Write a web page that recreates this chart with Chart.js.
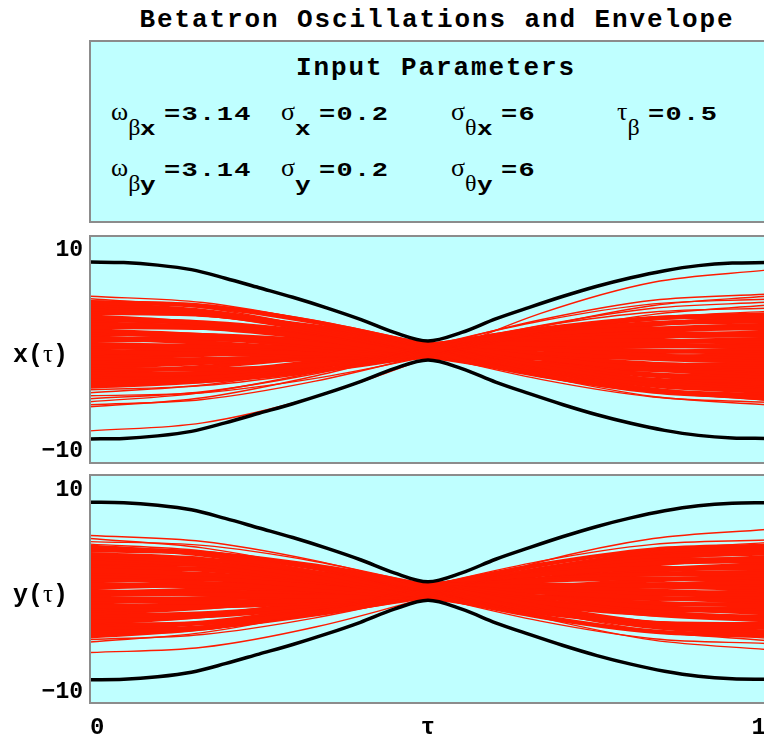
<!DOCTYPE html>
<html>
<head>
<meta charset="utf-8">
<script src="https://cdn.jsdelivr.net/npm/chart.js@4.4.1/dist/chart.umd.min.js"></script>
<style>
html,body{margin:0;padding:0;width:764px;height:742px;overflow:hidden;background:#fff;}
#title{position:absolute;left:0;top:7px;width:874px;text-align:center;font:bold 26px 'Liberation Mono',monospace;letter-spacing:1.9px;line-height:26px;white-space:nowrap;color:#000;}
#params{position:absolute;left:89px;top:40px;width:720px;height:179px;border:2px solid #8c8c8c;background:#bfffff;}
#ptitle{position:absolute;left:0;top:13px;width:690px;text-align:center;font:bold 26px 'Liberation Mono',monospace;letter-spacing:1.9px;line-height:26px;white-space:nowrap;}
.pi{position:absolute;white-space:nowrap;line-height:30px;height:30px;color:#000;}
.sym{font:26px 'Liberation Serif',serif;}
.sub{position:relative;top:15px;}
.gs{font:24px 'Liberation Serif',serif;}
.ls{display:inline-block;font:bold 20px 'Liberation Mono',monospace;transform:scaleX(1.3);transform-origin:left center;margin-right:4px;}
.val{display:inline-block;font:bold 20px 'Liberation Mono',monospace;letter-spacing:1px;transform:scaleX(1.35);transform-origin:left center;margin-left:8px;}
canvas{position:absolute;left:0;}
</style>
</head>
<body>
<div id="title"></div>
<div id="params"><div id="ptitle"></div></div>
<canvas id="cx" width="770" height="240" style="top:230px;width:770px;height:240px"></canvas>
<canvas id="cy" width="770" height="272" style="top:470px;width:770px;height:272px"></canvas>
<script>
// ---------- texts ----------
const chartTitle = 'Betatron Oscillations and Envelope';
const paramTitle = 'Input Parameters';
// [symbol, subscript greek, subscript latin, value, left(px inside box), row]
const paramItems = [
  ['ω', 'β', 'x', '=3.14', 20, 0],
  ['σ', '',  'x', '=0.2',  190, 0],
  ['σ', 'θ', 'x', '=6',    360, 0],
  ['τ', 'β', '',  '=0.5',  526, 0],
  ['ω', 'β', 'y', '=3.14', 20, 1],
  ['σ', '',  'y', '=0.2',  190, 1],
  ['σ', 'θ', 'y', '=6',    360, 1]
];
const yAxisLabels = ['x(τ)', 'y(τ)'];
const xTickValues = [0, 0.5, 1];
const xTickLabels = ['0', 'τ', '1'];
const yTickValues = [10, -10];
const yTickLabels = ['10', '−10'];

// ---------- data ----------
// sample times of the trajectories
const tau = [0, 0.1667, 0.3333, 0.5, 0.6667, 0.8333, 1];
// sample times of the envelope
const envTau = [0, 0.05, 0.1, 0.15, 0.2, 0.25, 0.3, 0.35, 0.4, 0.45, 0.5,
                0.55, 0.6, 0.65, 0.7, 0.75, 0.8, 0.85, 0.9, 0.95, 1];
const envUpperX = [8.8, 8.75, 8.5, 8.05, 7.2, 6.25, 5.3, 4.25, 3.1, 1.8, 0.95,
                   1.8, 3.15, 4.3, 5.4, 6.4, 7.25, 7.95, 8.45, 8.7, 8.75];
const envLowerX = [-8.8, -8.75, -8.5, -8.05, -7.2, -6.25, -5.3, -4.25, -3.1, -1.8, -0.95,
                   -1.8, -3.15, -4.3, -5.4, -6.4, -7.25, -7.95, -8.45, -8.7, -8.75];
const envUpperY = [8.8, 8.75, 8.5, 8.05, 7.2, 6.25, 5.3, 4.25, 3.1, 1.8, 0.92,
                   1.8, 3.15, 4.3, 5.4, 6.4, 7.25, 7.95, 8.45, 8.7, 8.75];
const envLowerY = [-8.8, -8.75, -8.5, -8.05, -7.2, -6.25, -5.3, -4.25, -3.1, -1.8, -0.92,
                   -1.8, -3.15, -4.3, -5.4, -6.4, -7.25, -7.95, -8.45, -8.7, -8.75];

// x(tau) trajectories, dense core
const xCoreLines = [
  [4.8, 4.41, 2.83, 0.5, -1.97, -3.91, -4.8],
  [4.62, 3.93, 2.18, -0.15, -2.44, -4.08, -4.62],
  [4.45, 3.7, 1.97, -0.3, -2.49, -4.0, -4.45],
  [4.1, 3.6, 2.14, 0.1, -1.96, -3.5, -4.1],
  [3.92, 3.6, 2.31, 0.4, -1.61, -3.2, -3.92],
  [3.75, 3.55, 2.39, 0.6, -1.36, -2.95, -3.75],
  [3.4, 2.67, 1.22, -0.55, -2.18, -3.22, -3.4],
  [3.22, 2.64, 1.35, -0.3, -1.87, -2.94, -3.22],
  [3.05, 2.79, 1.79, 0.3, -1.27, -2.49, -3.05],
  [2.7, 2.29, 1.26, -0.1, -1.44, -2.39, -2.7],
  [2.52, 2.48, 1.78, 0.6, -0.74, -1.88, -2.52],
  [2.35, 2.26, 1.57, 0.45, -0.79, -1.81, -2.35],
  [2.0, 1.53, 0.65, -0.4, -1.35, -1.93, -2.0],
  [1.82, 1.3, 0.43, -0.55, -1.39, -1.85, -1.82],
  [1.65, 1.53, 1.0, 0.2, -0.65, -1.33, -1.65],
  [1.3, 0.8, 0.09, -0.65, -1.21, -1.45, -1.3],
  [1.12, 1.12, 0.82, 0.3, -0.3, -0.82, -1.12],
  [0.95, 1.15, 1.04, 0.65, 0.09, -0.5, -0.95],
  [0.6, 0.42, 0.13, -0.2, -0.47, -0.62, -0.6],
  [0.42, 0.06, -0.31, -0.6, -0.73, -0.66, -0.42],
  [0.25, 0.39, 0.43, 0.35, 0.18, -0.04, -0.25],
  [-0.1, -0.34, -0.48, -0.5, -0.38, -0.16, 0.1],
  [-0.28, 0.06, 0.38, 0.6, 0.66, 0.54, 0.28],
  [-0.45, -0.36, -0.18, 0.05, 0.27, 0.41, 0.45],
  [-0.8, -0.44, 0.03, 0.5, 0.83, 0.94, 0.8],
  [-0.98, -0.87, -0.53, -0.05, 0.45, 0.82, 0.98],
  [-1.15, -1.15, -0.83, -0.3, 0.32, 0.85, 1.15],
  [-1.5, -1.17, -0.53, 0.25, 0.97, 1.42, 1.5],
  [-1.68, -1.23, -0.45, 0.45, 1.23, 1.68, 1.68],
  [-1.85, -1.9, -1.45, -0.6, 0.41, 1.3, 1.85],
  [-2.2, -1.63, -0.62, 0.55, 1.58, 2.18, 2.2],
  [-2.38, -2.24, -1.49, -0.35, 0.89, 1.89, 2.38],
  [-2.55, -2.28, -1.41, -0.15, 1.15, 2.13, 2.55],
  [-2.9, -2.31, -1.1, 0.4, 1.8, 2.71, 2.9],
  [-3.08, -2.67, -1.54, 0.0, 1.54, 2.67, 3.08],
  [-3.25, -3.04, -2.02, -0.45, 1.24, 2.59, 3.25],
  [-3.42, -2.71, -1.28, 0.5, 2.14, 3.21, 3.42],
  [-3.6, -3.04, -1.67, 0.15, 1.93, 3.19, 3.6]
];
// x(tau) trajectories, sparse edges and outlier
const xEdgeLines = [
  [5.4, 4.78, 2.87, 0.2, -2.53, -4.58, -5.4],
  [5.15, 4.28, 2.27, -0.35, -2.88, -4.63, -5.15],
  [4.95, 4.59, 2.99, 0.6, -1.96, -3.99, -4.95],
  [-3.9, -3.5, -2.17, -0.25, 1.73, 3.25, 3.9],
  [-4.2, -3.44, -1.75, 0.4, 2.45, 3.84, 4.2],
  [-4.5, -4.2, -2.77, -0.6, 1.73, 3.6, 4.5],
  [-4.8, -4.11, -2.31, 0.1, 2.49, 4.21, 4.8],
  [-5.1, -4.19, -2.16, 0.45, 2.94, 4.64, 5.1],
  [-5.4, -4.88, -3.05, -0.4, 2.35, 4.48, 5.4],
  [-5.6, -4.7, -2.54, 0.3, 3.06, 5.0, 5.6],
  [-8.0, -7.2, -4.6, -0.7, 3.7, 6.8, 8.0]
];
// y(tau) trajectories, dense core
const yCoreLines = [
  [4.4, 3.61, 1.85, -0.4, -2.55, -4.01, -4.4],
  [4.22, 3.76, 2.28, 0.2, -1.94, -3.56, -4.22],
  [4.05, 3.78, 2.5, 0.55, -1.55, -3.23, -4.05],
  [3.65, 3.16, 1.83, 0, -1.83, -3.16, -3.65],
  [3.48, 2.84, 1.44, -0.35, -2.04, -3.19, -3.48],
  [3.3, 2.56, 1.13, -0.6, -2.17, -3.16, -3.3],
  [2.9, 2.69, 1.75, 0.35, -1.15, -2.34, -2.9],
  [2.72, 2.61, 1.79, 0.5, -0.93, -2.11, -2.72],
  [2.55, 2.11, 1.1, -0.2, -1.45, -2.31, -2.55],
  [2.2, 2.21, 1.62, 0.6, -0.58, -1.61, -2.2],
  [2.0, 1.68, 0.91, -0.1, -1.09, -1.78, -2.0],
  [1.8, 1.31, 0.47, -0.5, -1.33, -1.81, -1.8],
  [1.45, 1.33, 0.86, 0.15, -0.6, -1.18, -1.45],
  [1.25, 0.78, 0.11, -0.6, -1.15, -1.38, -1.25],
  [1.05, 1.13, 0.92, 0.45, -0.14, -0.68, -1.05],
  [0.7, 0.46, 0.09, -0.3, -0.61, -0.76, -0.7],
  [0.52, 0.63, 0.56, 0.35, 0.04, -0.28, -0.52],
  [0.35, 0.63, 0.74, 0.65, 0.39, 0.02, -0.35],
  [0, -0.33, -0.56, -0.65, -0.56, -0.33, 0],
  [-0.2, 0.13, 0.42, 0.6, 0.62, 0.47, 0.2],
  [-0.4, -0.22, 0.02, 0.25, 0.42, 0.47, 0.4],
  [-0.8, -0.74, -0.49, -0.1, 0.31, 0.64, 0.8],
  [-0.98, -1.1, -0.92, -0.5, 0.06, 0.6, 0.98],
  [-1.15, -0.75, -0.14, 0.5, 1.01, 1.25, 1.15],
  [-1.5, -1.52, -1.14, -0.45, 0.36, 1.07, 1.5],
  [-1.7, -1.3, -0.55, 0.35, 1.15, 1.65, 1.7],
  [-1.9, -1.6, -0.86, 0.1, 1.04, 1.7, 1.9],
  [-2.25, -1.65, -0.61, 0.6, 1.65, 2.25, 2.25],
  [-2.45, -2.22, -1.4, -0.2, 1.05, 2.02, 2.45],
  [-2.65, -2.47, -1.63, -0.35, 1.02, 2.12, 2.65],
  [-3.0, -2.45, -1.24, 0.3, 1.76, 2.75, 3.0],
  [-3.18, -2.48, -1.11, 0.55, 2.07, 3.03, 3.18],
  [-3.35, -3.18, -2.15, -0.55, 1.2, 2.63, 3.35],
  [-3.75, -3.15, -1.7, 0.2, 2.05, 3.35, 3.75],
  [-3.92, -3.6, -2.31, -0.4, 1.61, 3.2, 3.92],
  [-4.1, -3.63, -2.18, -0.15, 1.92, 3.48, 4.1],
  [-4.3, -3.7, -2.11, 0.05, 2.19, 3.75, 4.3],
  [-4.5, -3.7, -1.9, 0.4, 2.6, 4.1, 4.5]
];
// y(tau) trajectories, sparse edges and outlier
const yEdgeLines = [
  [5.5, 4.91, 3.01, 0.3, -2.64, -4.87, -5.8],
  [5.2, 4.28, 2.21, -0.45, -2.99, -4.73, -5.2],
  [4.9, 4.52, 2.93, 0.55, -1.97, -3.97, -4.9],
  [4.65, 3.98, 2.24, -0.1, -2.41, -4.08, -4.65],
  [-4.8, -4.31, -2.66, -0.3, 2.14, 4.01, 4.8],
  [-5.05, -4.12, -2.09, 0.5, 2.96, 4.62, 5.05],
  [-6.1, -5.58, -3.57, -0.6, 2.9, 5.2, 6.1]
];

// ---------- html texts ----------
document.getElementById('title').textContent = chartTitle;
const box = document.getElementById('params');
document.getElementById('ptitle').textContent = paramTitle;
const rowTop = [55, 111];
paramItems.forEach(([s, g, l, v, left, row]) => {
  const d = document.createElement('div');
  d.className = 'pi';
  d.style.left = left + 'px';
  d.style.top = rowTop[row] + 'px';
  d.innerHTML = '<span class="sym">' + s + '</span><span class="sub">' +
    (g ? '<span class="gs">' + g + '</span>' : '') +
    (l ? '<span class="ls">' + l + '</span>' : '') +
    '</span><span class="val">' + v + '</span>';
  box.appendChild(d);
});

// ---------- charts ----------
const CYAN = '#bfffff', RED = 'rgb(255,26,0)', FRAME = '#8c8c8c';
const pts = (xs, ys) => xs.map((x, i) => ({x: x, y: ys[i]}));

const framePlugin = {
  id: 'frame',
  beforeDraw(chart) {
    const {ctx, chartArea: a} = chart;
    ctx.save();
    ctx.fillStyle = CYAN;
    ctx.fillRect(a.left, a.top, chart.width - a.left, a.bottom - a.top);
    ctx.restore();
  },
  afterDraw(chart) {
    const {ctx, chartArea: a} = chart;
    ctx.save();
    ctx.strokeStyle = FRAME;
    ctx.lineWidth = 2;
    ctx.beginPath();
    ctx.moveTo(chart.width + 5, a.top);
    ctx.lineTo(a.left, a.top);
    ctx.lineTo(a.left, a.bottom);
    ctx.lineTo(chart.width + 5, a.bottom);
    ctx.stroke();
    // horizontal axis label x(τ) / y(τ)
    const lab = chart.options.plugins.frame.label;
    const parts = lab.split('τ');
    const yc = chart.scales.y.getPixelForValue(0) + 11;
    let x = 13;
    ctx.fillStyle = '#000';
    ctx.textBaseline = 'alphabetic';
    ctx.textAlign = 'left';
    ctx.font = 'bold 25px "Liberation Mono"';
    ctx.fillText(parts[0], x, yc); x += ctx.measureText(parts[0]).width;
    ctx.font = '25px "Liberation Serif"';
    ctx.fillText('τ', x, yc); x += ctx.measureText('τ').width;
    ctx.font = 'bold 25px "Liberation Mono"';
    ctx.fillText(parts[1], x, yc);
    ctx.restore();
  }
};

function makePanel(id, core, edge, up, lo, yMin, yMax, label, showX, pad) {
  const common = {pointRadius: 0, pointHoverRadius: 0, fill: false,
                  cubicInterpolationMode: 'monotone', clip: 0, borderCapStyle: 'round'};
  const datasets = [];
  datasets.push(Object.assign({data: pts(envTau, up), borderColor: '#000', borderWidth: 3.5}, common));
  datasets.push(Object.assign({data: pts(envTau, lo), borderColor: '#000', borderWidth: 3.5}, common));
  edge.forEach(l => datasets.push(Object.assign({data: pts(tau, l), borderColor: RED, borderWidth: 1.4}, common)));
  core.forEach(l => datasets.push(Object.assign({data: pts(tau, l), borderColor: RED, borderWidth: 4.4}, common)));

  return new Chart(document.getElementById(id), {
    type: 'line',
    data: {datasets},
    plugins: [framePlugin],
    options: {
      responsive: false,
      animation: false,
      devicePixelRatio: 1,
      layout: {padding: pad},
      plugins: {legend: {display: false}, tooltip: {enabled: false}, frame: {label}},
      scales: {
        x: {
          type: 'linear', min: 0, max: 1, display: showX,
          grid: {display: false, drawTicks: false}, border: {display: false},
          afterBuildTicks: s => { s.ticks = xTickValues.map(v => ({value: v})); },
          afterFit: s => { if (showX) { s.height = 39; s.paddingLeft = 0; s.paddingRight = 0; } },
          ticks: {
            align: 'inner', padding: 11, color: '#000', maxRotation: 0, autoSkip: false,
            font: {family: 'Liberation Mono', weight: 'bold', size: 24},
            callback: (v, i) => xTickLabels[i]
          }
        },
        y: {
          type: 'linear', min: yMin, max: yMax, position: 'left',
          grid: {display: false, drawTicks: false}, border: {display: false},
          afterBuildTicks: s => { s.ticks = yTickValues.map(v => ({value: v})); },
          afterFit: s => { s.width = 90; s.paddingTop = 0; s.paddingBottom = 0; },
          ticks: {
            padding: 7, color: '#000', autoSkip: false,
            font: {family: 'Liberation Mono', weight: 'bold', size: 23},
            callback: (v, i) => yTickLabels[i]
          }
        }
      }
    }
  });
}

makePanel('cx', xCoreLines, xEdgeLines, envUpperX, envLowerX, -11.2, 11.4, yAxisLabels[0], false,
          {top: 6, bottom: 7, left: 0, right: 4});
makePanel('cy', yCoreLines, yEdgeLines, envUpperY, envLowerY, -11.1, 11.5, yAxisLabels[1], true,
          {top: 5, bottom: 0, left: 0, right: 4});
</script>
</body>
</html>
